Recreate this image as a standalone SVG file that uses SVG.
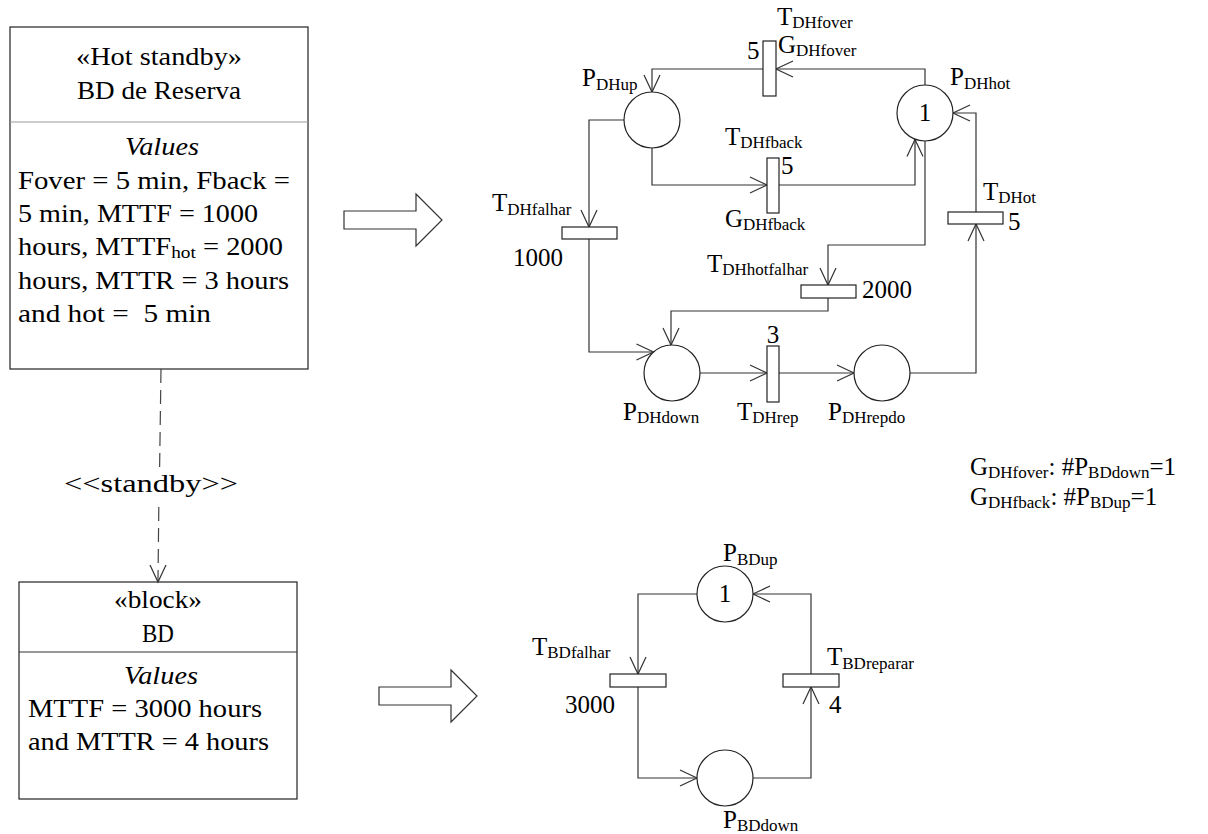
<svg xmlns="http://www.w3.org/2000/svg" width="1208" height="834" viewBox="0 0 1208 834">
  <style>
    .t { font-family: "Liberation Serif", "Times New Roman", serif; font-size: 25px; fill: #000; }
    .s { font-size: 17px; }
    .it { font-style: italic; }
    .box { fill: #fff; stroke: #222; stroke-width: 1.2; }
    .div { fill: none; stroke: #999; stroke-width: 1; }
    .div2 { fill: none; stroke: #333; stroke-width: 1; }
    .place { fill: #fff; stroke: #222; stroke-width: 1.2; }
    .trans { fill: #fff; stroke: #222; stroke-width: 1.2; }
    .arc { fill: none; stroke: #333; stroke-width: 1.2; marker-end: url(#open); }
    .plain { fill: none; stroke: #333; stroke-width: 1.2; }
    .dash { fill: none; stroke: #444; stroke-width: 1.2; stroke-dasharray: 14 7; }
    .fat { fill: #fff; stroke: #333; stroke-width: 1.2; }
  </style>
  <defs>
    <marker id="open" viewBox="-19 -10 21 20" refX="0" refY="0" markerWidth="21" markerHeight="20" markerUnits="userSpaceOnUse" orient="auto">
      <path d="M-17,-8 L0,0 L-17,8" fill="none" stroke="#333" stroke-width="1.2"/>
    </marker>
  </defs>

  <rect width="1208" height="834" fill="#fff"/>

  <!-- Hot standby block -->
  <g id="hot-standby-block">
    <rect class="box" x="10" y="27" width="298" height="342"/>
    <line class="div" x1="10" y1="122" x2="308" y2="122"/>
    <text class="t" x="76" y="65" textLength="166" lengthAdjust="spacingAndGlyphs">«Hot standby»</text>
    <text class="t" x="77" y="99" textLength="164" lengthAdjust="spacingAndGlyphs">BD de Reserva</text>
    <text class="t it" x="125" y="155" textLength="74" lengthAdjust="spacingAndGlyphs">Values</text>
    <text class="t" x="18" y="189" textLength="272" lengthAdjust="spacingAndGlyphs">Fover = 5 min, Fback =</text>
    <text class="t" x="18" y="222" textLength="240" lengthAdjust="spacingAndGlyphs">5 min, MTTF = 1000</text>
    <text class="t" x="18" y="255" textLength="265" lengthAdjust="spacingAndGlyphs">hours, MTTF<tspan class="s" dy="3">hot</tspan><tspan dy="-3"> = 2000</tspan></text>
    <text class="t" x="18" y="289" textLength="271" lengthAdjust="spacingAndGlyphs">hours, MTTR = 3 hours</text>
    <text class="t" x="18" y="322" textLength="193" lengthAdjust="spacingAndGlyphs" xml:space="preserve">and hot =  5 min</text>
  </g>

  <!-- BD block -->
  <g id="bd-block">
    <rect class="box" x="19" y="582" width="278" height="217"/>
    <line class="div2" x1="19" y1="652" x2="297" y2="652"/>
    <text class="t" x="114" y="608" textLength="88" lengthAdjust="spacingAndGlyphs">«block»</text>
    <text class="t" x="142" y="642" textLength="32" lengthAdjust="spacingAndGlyphs">BD</text>
    <text class="t it" x="124" y="684" textLength="74" lengthAdjust="spacingAndGlyphs">Values</text>
    <text class="t" x="28" y="717" textLength="234" lengthAdjust="spacingAndGlyphs">MTTF = 3000 hours</text>
    <text class="t" x="28" y="750" textLength="241" lengthAdjust="spacingAndGlyphs">and MTTR = 4 hours</text>
  </g>

  <!-- standby dependency -->
  <g id="standby-dependency">
    <path class="dash" d="M161,369 L159.6,468"/>
    <path class="dash" d="M158.8,507 L158,581"/>
    <path class="plain" d="M150,565 L158,582 L166,565"/>
    <text class="t" x="64" y="492" textLength="174" lengthAdjust="spacingAndGlyphs">&lt;&lt;standby&gt;&gt;</text>
  </g>

  <!-- mapping arrows -->
  <g id="map-arrow-top">
    <polygon class="fat" points="344,211 416,211 416,194 442,220 416,246 416,229 344,229"/>
  </g>
  <g id="map-arrow-bottom">
    <polygon class="fat" points="379,687 451,687 451,670 477,696 451,722 451,705 379,705"/>
  </g>

  <!-- connectors of both nets -->
  <g id="arcs">
    <path class="arc" d="M925,85 V69 H776"/>
    <path class="arc" d="M763,69 H652 V92"/>
    <path class="arc" d="M652,148 V185 H767"/>
    <path class="arc" d="M779,185 H915 V139.5"/>
    <path class="arc" d="M624,120 H589 V227"/>
    <path class="arc" d="M589,239 V352 H653.5"/>
    <path class="arc" d="M925,141 V245 H828 V285"/>
    <path class="arc" d="M828,298 V311 H671 V345"/>
    <path class="arc" d="M700,373 H767"/>
    <path class="arc" d="M779,373 H854"/>
    <path class="arc" d="M910,373 H976 V224"/>
    <path class="arc" d="M976,212 V113 H953"/>

    <path class="arc" d="M697,594 H638 V674"/>
    <path class="arc" d="M638,687 V778 H697"/>
    <path class="arc" d="M753,778 H811 V687"/>
    <path class="arc" d="M811,674 V594 H753"/>
  </g>

  <!-- hot standby net: places -->
  <g id="P_DHup">
    <circle class="place" cx="652" cy="120" r="28"/>
    <text class="t" x="582" y="86">P<tspan class="s" dy="4">DHup</tspan></text>
  </g>
  <g id="P_DHhot">
    <circle class="place" cx="925" cy="113" r="28"/>
    <text class="t" x="925" y="121" text-anchor="middle">1</text>
    <text class="t" x="950" y="85">P<tspan class="s" dy="4">DHhot</tspan></text>
  </g>
  <g id="P_DHdown">
    <circle class="place" cx="672" cy="373" r="28"/>
    <text class="t" x="623" y="420">P<tspan class="s" dy="3">DHdown</tspan></text>
  </g>
  <g id="P_DHrepdo">
    <circle class="place" cx="882" cy="373" r="28"/>
    <text class="t" x="828" y="420">P<tspan class="s" dy="3">DHrepdo</tspan></text>
  </g>

  <!-- hot standby net: transitions -->
  <g id="T_DHfover">
    <rect class="trans" x="763" y="41" width="13" height="55"/>
    <text class="t" x="777" y="25">T<tspan class="s" dy="3">DHfover</tspan></text>
    <text class="t" x="778" y="53">G<tspan class="s" dy="3">DHfover</tspan></text>
    <text class="t" x="747" y="59">5</text>
  </g>
  <g id="T_DHfback">
    <rect class="trans" x="767" y="158" width="12" height="55"/>
    <text class="t" x="725" y="145">T<tspan class="s" dy="3">DHfback</tspan></text>
    <text class="t" x="781" y="174">5</text>
    <text class="t" x="725" y="227">G<tspan class="s" dy="3">DHfback</tspan></text>
  </g>
  <g id="T_DHfalhar">
    <rect class="trans" x="562" y="227" width="55" height="12"/>
    <text class="t" x="492" y="211">T<tspan class="s" dy="4">DHfalhar</tspan></text>
    <text class="t" x="513" y="266">1000</text>
  </g>
  <g id="T_DHhotfalhar">
    <rect class="trans" x="801" y="285" width="55" height="13"/>
    <text class="t" x="707" y="272">T<tspan class="s" dy="3">DHhotfalhar</tspan></text>
    <text class="t" x="862" y="298">2000</text>
  </g>
  <g id="T_DHrep">
    <rect class="trans" x="767" y="346" width="12" height="56"/>
    <text class="t" x="773" y="343" text-anchor="middle">3</text>
    <text class="t" x="737" y="420">T<tspan class="s" dy="3">DHrep</tspan></text>
  </g>
  <g id="T_DHot">
    <rect class="trans" x="948" y="212" width="55" height="12"/>
    <text class="t" x="983" y="200">T<tspan class="s" dy="3">DHot</tspan></text>
    <text class="t" x="1008" y="230">5</text>
  </g>

  <!-- guard conditions -->
  <g id="guards">
    <text class="t" x="970" y="475">G<tspan class="s" dy="3">DHfover</tspan><tspan dy="-3">: #P</tspan><tspan class="s" dy="3">BDdown</tspan><tspan dy="-3">=1</tspan></text>
    <text class="t" x="970" y="505">G<tspan class="s" dy="3">DHfback</tspan><tspan dy="-3">: #P</tspan><tspan class="s" dy="3">BDup</tspan><tspan dy="-3">=1</tspan></text>
  </g>

  <!-- BD net -->
  <g id="P_BDup">
    <circle class="place" cx="725" cy="594" r="28"/>
    <text class="t" x="725" y="602" text-anchor="middle">1</text>
    <text class="t" x="723" y="561">P<tspan class="s" dy="4">BDup</tspan></text>
  </g>
  <g id="P_BDdown">
    <circle class="place" cx="725" cy="778" r="28"/>
    <text class="t" x="723" y="828">P<tspan class="s" dy="3">BDdown</tspan></text>
  </g>
  <g id="T_BDfalhar">
    <rect class="trans" x="610" y="674" width="56" height="13"/>
    <text class="t" x="532" y="655">T<tspan class="s" dy="3">BDfalhar</tspan></text>
    <text class="t" x="565" y="713">3000</text>
  </g>
  <g id="T_BDreparar">
    <rect class="trans" x="783" y="674" width="56" height="13"/>
    <text class="t" x="827" y="665">T<tspan class="s" dy="4">BDreparar</tspan></text>
    <text class="t" x="829" y="713">4</text>
  </g>
</svg>
